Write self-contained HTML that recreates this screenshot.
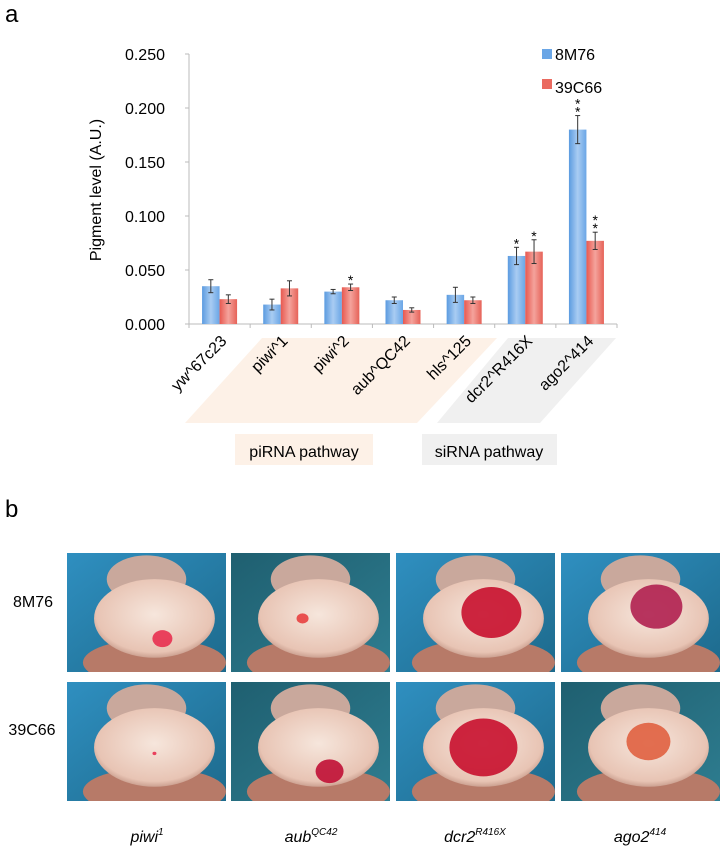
<!DOCTYPE html>
<html><head><meta charset="utf-8"><style>
body{margin:0;background:#fff;font-family:"Liberation Sans",Arial,sans-serif;}
#wrap{position:relative;width:724px;height:849px;overflow:hidden;}
svg text{font-family:"Liberation Sans",Arial,sans-serif;}
</style></head><body>
<div id="wrap">
<svg id="chart" width="724" height="480" style="position:absolute;left:0;top:0">
<defs>
<linearGradient id="gb" x1="0" x2="1"><stop offset="0" stop-color="#5b9be0"/><stop offset="0.5" stop-color="#a9ccf2"/><stop offset="1" stop-color="#6aa6e6"/></linearGradient>
<linearGradient id="gr" x1="0" x2="1"><stop offset="0" stop-color="#e8584f"/><stop offset="0.5" stop-color="#f4a39c"/><stop offset="1" stop-color="#e66258"/></linearGradient>
</defs>
<text x="5" y="22" font-size="24">a</text>
<polygon points="262,338 497,338 417,423 185,423" fill="#fdf1e7"/>
<polygon points="508,338 616,338 540,423 437,423" fill="#f0f0f0"/>
<rect x="235" y="434" width="138" height="31" fill="#fdf1e7"/>
<text x="304" y="457" font-size="16" text-anchor="middle">piRNA pathway</text>
<rect x="422" y="434" width="135" height="31" fill="#f0f0f0"/>
<text x="489" y="457" font-size="16" text-anchor="middle">siRNA pathway</text>
<text transform="translate(101,190) rotate(-90)" font-size="16" text-anchor="middle">Pigment level (A.U.)</text>
<g id="plot"></g>
<rect x="542" y="49" width="10" height="10" fill="#6aa6e6"/>
<text x="555" y="60" font-size="16">8M76</text>
<rect x="542" y="79" width="10" height="10" fill="#ea6a60"/>
<text x="555" y="93" font-size="16">39C66</text>
</svg>
<svg id="photos" width="724" height="369" style="position:absolute;left:0;top:480">
<defs>
<radialGradient id="eye" cx="0.5" cy="0.45" r="0.6"><stop offset="0" stop-color="#f6e6dc"/><stop offset="0.8" stop-color="#e8c4b4"/><stop offset="1" stop-color="#b88878"/></radialGradient>
<linearGradient id="bg1" x1="0" y1="0" x2="1" y2="1"><stop offset="0" stop-color="#2f8fc0"/><stop offset="1" stop-color="#1d6a8c"/></linearGradient>
<linearGradient id="bg2" x1="0" y1="0" x2="1" y2="1"><stop offset="0" stop-color="#1f5f70"/><stop offset="1" stop-color="#2e7d90"/></linearGradient>
</defs>
<text x="5" y="37" font-size="24">b</text>
<text x="33" y="127" font-size="16" text-anchor="middle">8M76</text>
<text x="32" y="255" font-size="16" text-anchor="middle">39C66</text>
<g id="ph"></g>
<g font-size="16" font-style="italic" text-anchor="middle">
<text x="147" y="362">piwi<tspan font-size="10" dy="-7">1</tspan></text>
<text x="311" y="362">aub<tspan font-size="10" dy="-7">QC42</tspan></text>
<text x="475" y="362">dcr2<tspan font-size="10" dy="-7">R416X</tspan></text>
<text x="640" y="362">ago2<tspan font-size="10" dy="-7">414</tspan></text>
</g>
</svg>
</div>
<script>
const categories=["yw^67c23","piwi^1","piwi^2","aub^QC42","hls^125","dcr2^R416X","ago2^414"];
const seriesBlue=[0.035,0.018,0.030,0.022,0.027,0.063,0.180];
const seriesRed=[0.023,0.033,0.034,0.013,0.022,0.067,0.077];
const errBlue=[0.006,0.005,0.002,0.003,0.007,0.008,0.013];
const errRed=[0.004,0.007,0.003,0.002,0.003,0.011,0.008];
const starsBlue=[0,0,0,0,0,1,2];
const starsRed=[0,0,1,0,0,1,2];
const yTicks=[0,0.05,0.1,0.15,0.2,0.25];
const yTickLabels=["0.000","0.050","0.100","0.150","0.200","0.250"];
const NS='http://www.w3.org/2000/svg';
const x0=189,x1=617,y0=324,yTop=54,ymax=0.25;
const y=v=>y0-(v/ymax)*(y0-yTop);
const bw=(x1-x0)/categories.length;
const cx=i=>x0+bw*(i+0.5);
const g=document.getElementById('plot');
function mk(t,a,p){const e=document.createElementNS(NS,t);for(const k in a)e.setAttribute(k,a[k]);(p||g).appendChild(e);return e;}
let e=mk('line',{x1:x0,y1:yTop,x2:x0,y2:y0,stroke:'#bbb'});


e=mk('line',{x1:x0,y1:y0,x2:x1,y2:y0,stroke:'#bbb'});


yTicks.forEach((v,i)=>{
 mk('line',{x1:x0-4,y1:y(v),x2:x0,y2:y(v),stroke:'#bbb'});
 const t=mk('text',{x:x0-24,y:y(v)+6,'font-size':16,'text-anchor':'end'});t.textContent=yTickLabels[i];
 
 
});
for(let i=0;i<=categories.length;i++)mk('line',{x1:x0+bw*i,y1:y0,x2:x0+bw*i,y2:y0+4,stroke:'#bbb'});
function err(x,v,er){mk('line',{x1:x,y1:y(v+er),x2:x,y2:y(v-er),stroke:'#333'});mk('line',{x1:x-2.5,y1:y(v+er),x2:x+2.5,y2:y(v+er),stroke:'#333'});mk('line',{x1:x-2.5,y1:y(v-er),x2:x+2.5,y2:y(v-er),stroke:'#333'});}
function stars(x,v,er,n){for(let k=0;k<n;k++){const t=mk('text',{x:x,y:y(v+er)-4-k*8+5,'font-size':14,'text-anchor':'middle'});t.textContent='*';
 
 }}
categories.forEach((c,i)=>{
 const c0=cx(i);
 let b=mk('rect',{x:c0-17.5,y:y(seriesBlue[i]),width:17.5,height:y0-y(seriesBlue[i]),fill:'url(#gb)'});
 
 
 let r=mk('rect',{x:c0,y:y(seriesRed[i]),width:17.5,height:y0-y(seriesRed[i]),fill:'url(#gr)'});
 
 
 err(c0-8.75,seriesBlue[i],errBlue[i]);err(c0+8.75,seriesRed[i],errRed[i]);
 stars(c0-8.75,seriesBlue[i],errBlue[i],starsBlue[i]);stars(c0+8.75,seriesRed[i],errRed[i],starsRed[i]);
 const t=mk('text',{transform:`translate(${c0+8},${y0+18}) rotate(-45)`,'font-size':16,'text-anchor':'end'});t.textContent=c;
 
 
});
// photos
const ph=document.getElementById('ph');
const cols=[67,231,396,561],rows=[73,202],pw=159,phh=119;
const spots=[[[0.6,0.72,10,'#e83050']],[[0.45,0.55,6,'#e84040']],[[0.6,0.5,30,'#c8102e']],[[0.6,0.45,26,'#b02050']]];
const spots2=[[[0.55,0.6,2,'#e83050']],[[0.62,0.75,14,'#c01035']],[[0.55,0.55,34,'#c8102e']],[[0.55,0.5,22,'#e06040']]];
cols.forEach((x,ci)=>rows.forEach((yy,ri)=>{
 const gg=document.createElementNS(NS,'g');ph.appendChild(gg);
 
 
 mk('rect',{x:x,y:yy,width:pw,height:phh,fill:(ci==1||ri==1&&ci==3)?'url(#bg2)':'url(#bg1)'},gg);
 mk('clipPath',{id:'c'+ci+ri},gg).appendChild(Object.assign(document.createElementNS(NS,'rect'),{}));
 const cl=gg.lastChild.firstChild;cl.setAttribute('x',x);cl.setAttribute('y',yy);cl.setAttribute('width',pw);cl.setAttribute('height',phh);
 const inner=mk('g',{'clip-path':'url(#c'+ci+ri+')'},gg);
 mk('ellipse',{cx:x+pw*0.55,cy:yy+phh*0.92,rx:pw*0.45,ry:phh*0.2,fill:'#b77a68'},inner);
 mk('ellipse',{cx:x+pw*0.5,cy:yy+phh*0.22,rx:pw*0.25,ry:phh*0.2,fill:'#c9a89c'},inner);
 mk('ellipse',{cx:x+pw*0.55,cy:yy+phh*0.55,rx:pw*0.38,ry:phh*0.33,fill:'url(#eye)'},inner);
 (ri?spots2:spots)[ci].forEach(s=>mk('ellipse',{cx:x+pw*s[0],cy:yy+phh*s[1],rx:s[2],ry:s[2]*0.85,fill:s[3],opacity:0.9},inner));
}));
</script>
</body></html>
